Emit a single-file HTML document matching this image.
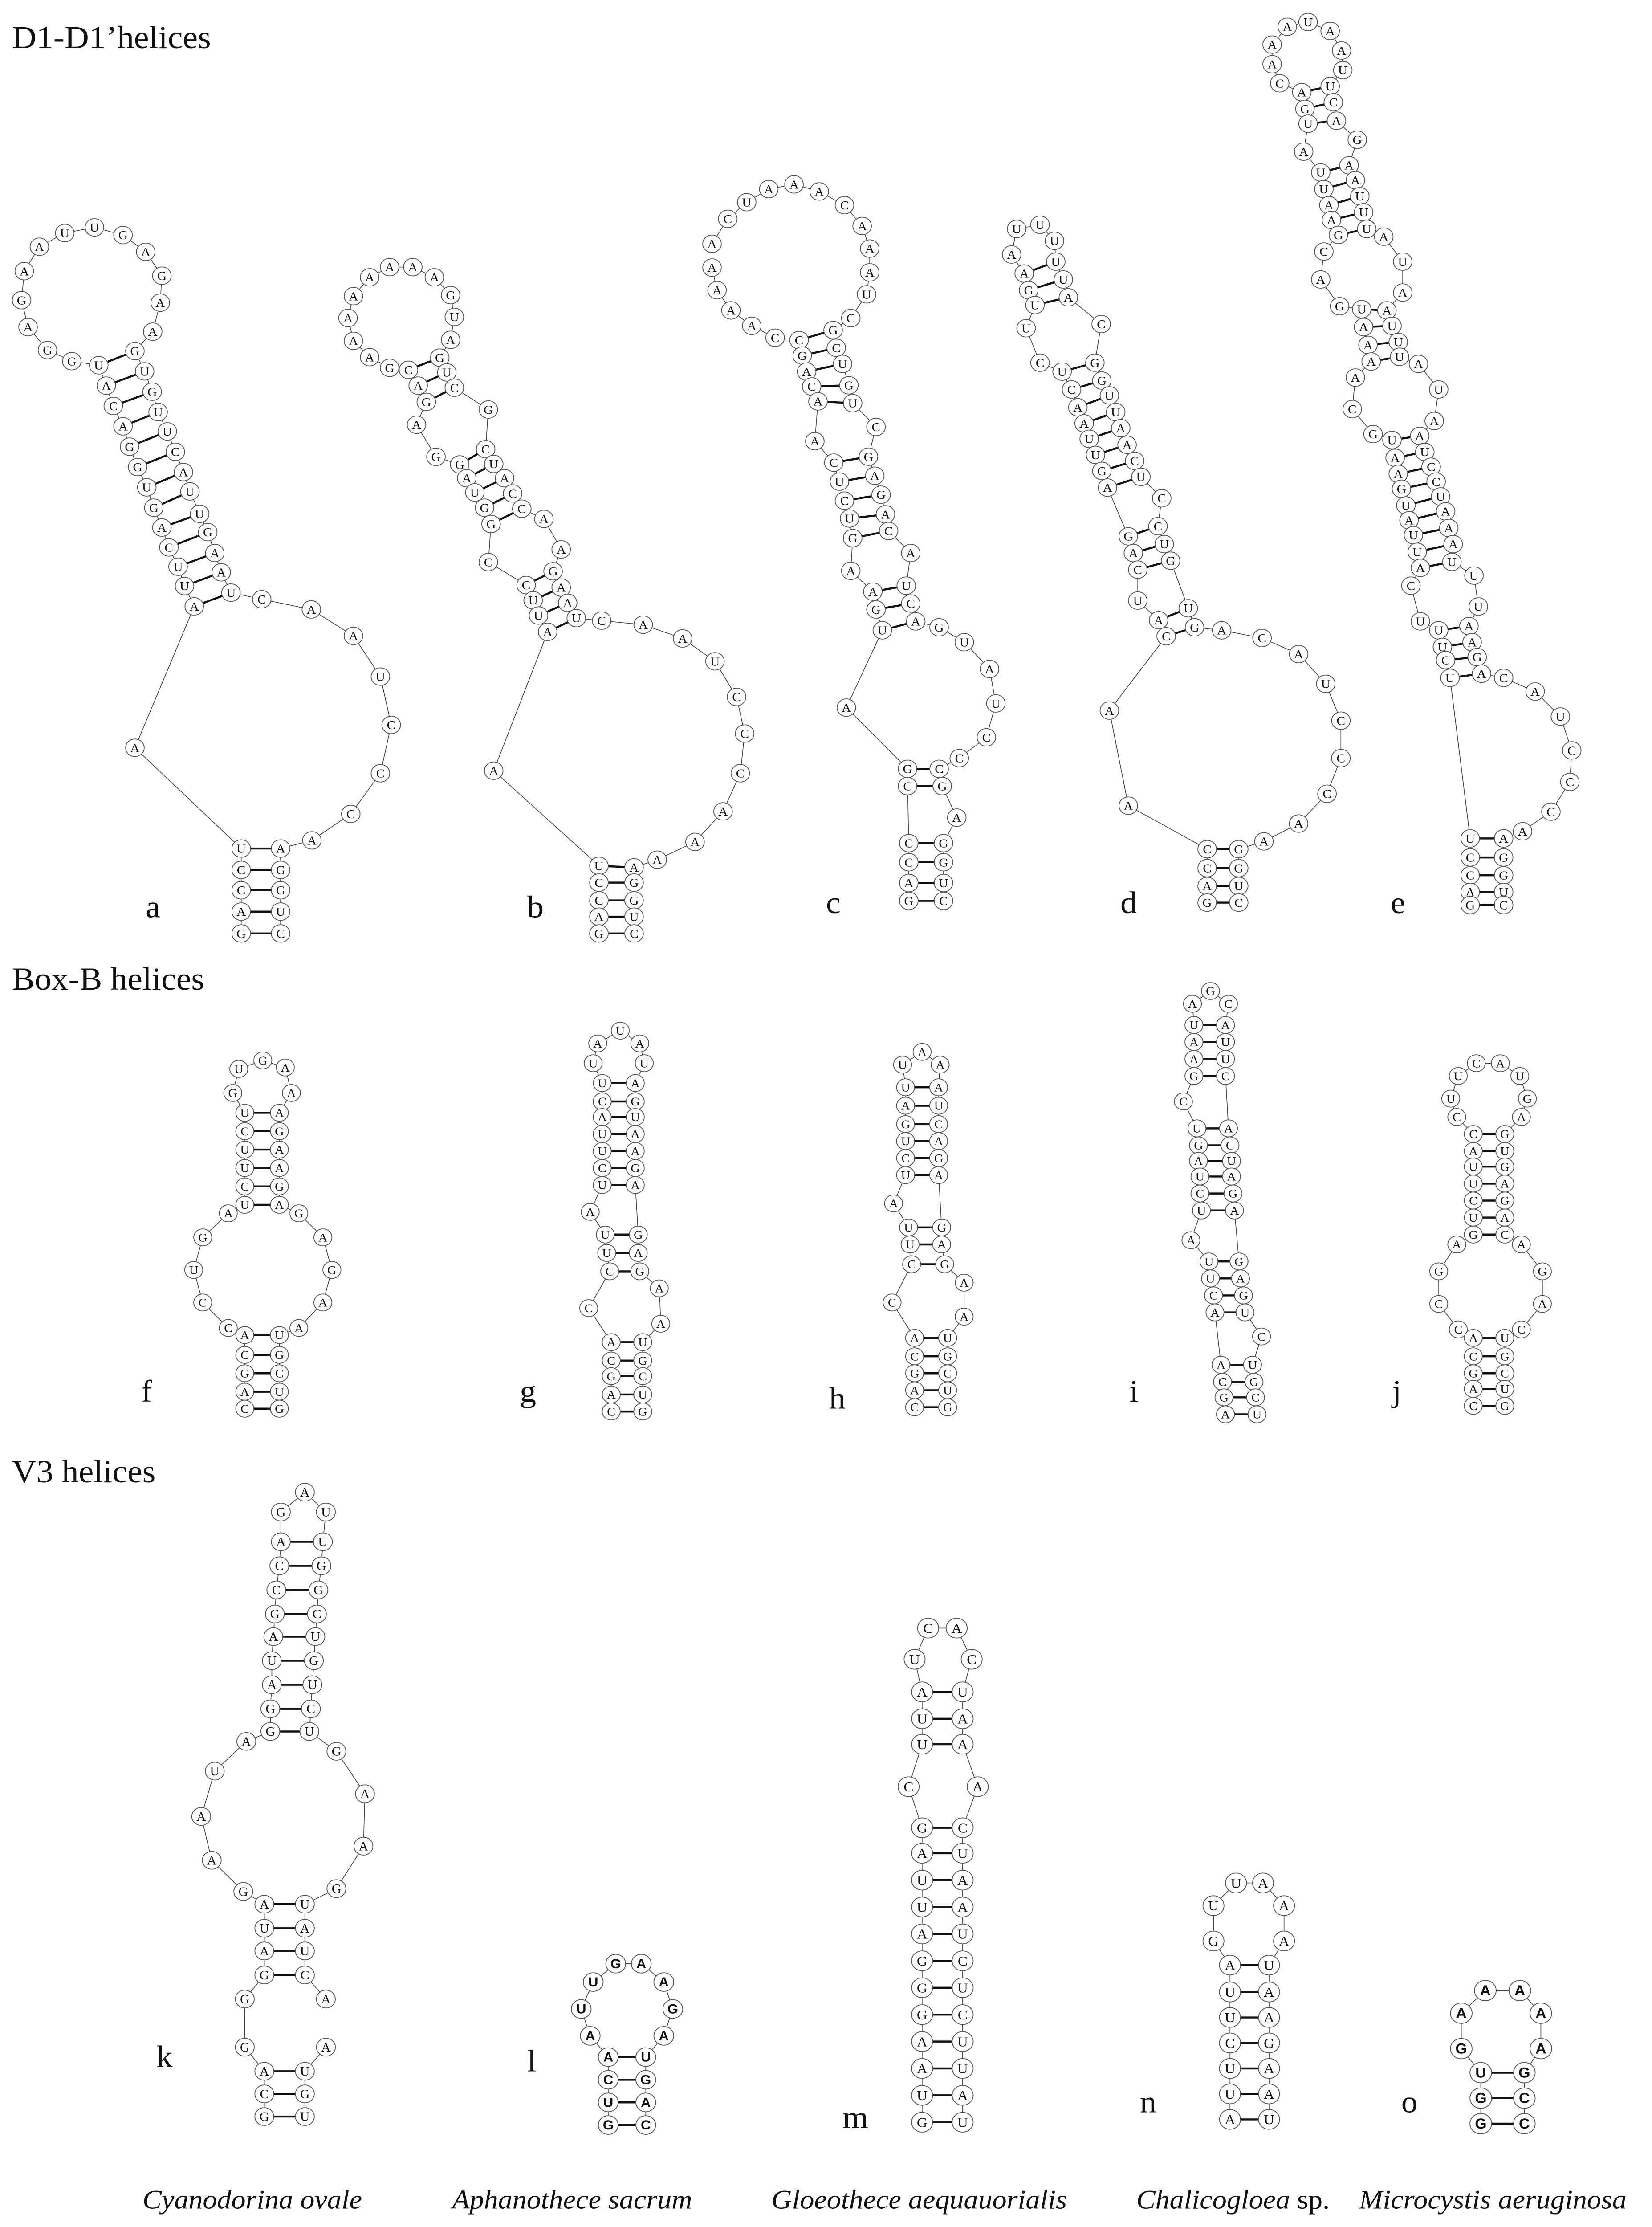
<!DOCTYPE html>
<html><head><meta charset="utf-8"><style>
html,body{margin:0;padding:0;background:#fff;width:100%;height:100%;overflow:hidden;}
svg#s{position:fixed;left:0;top:0;width:100vw;height:100vh;display:block;}
</style></head><body>
<svg id="s" xmlns="http://www.w3.org/2000/svg" viewBox="0 0 1100 1573" preserveAspectRatio="none" font-family="'Liberation Serif', serif">
<rect x="0" y="0" width="1100" height="1573" fill="#fff"/>
<text x="8" y="34" font-size="22.5" fill="#111">D1-D1’helices</text>
<text x="8" y="699" font-size="22.5" fill="#111">Box-B helices</text>
<text x="8" y="1047" font-size="22.5" fill="#111">V3 helices</text>
<g font-size="22" fill="#111">
<text x="97" y="648">a</text><text x="351" y="648">b</text><text x="550" y="645">c</text><text x="746" y="645">d</text><text x="926" y="645">e</text>
<text x="94" y="990">f</text><text x="346" y="990">g</text><text x="552" y="995">h</text><text x="752" y="990">i</text><text x="927" y="990">j</text>
<text x="104" y="1460">k</text><text x="351" y="1463">l</text><text x="561" y="1503">m</text><text x="759" y="1492">n</text><text x="933" y="1492">o</text>
</g>
<g font-size="19" fill="#111" font-style="italic" text-anchor="middle">
<text x="168" y="1560">Cyanodorina ovale</text>
<text x="381" y="1560">Aphanothece sacrum</text>
<text x="612" y="1560">Gloeothece aequauorialis</text>
<text x="821" y="1560">Chalicogloea <tspan font-style="normal">sp.</tspan></text>
<text x="994" y="1560">Microcystis aeruginosa</text>
</g>
<g id="g"></g>
</svg>
<script>
(function(){
let lines=[],bars=[],nodes=new Map();
let RAD=6,TF=null,BOLD=false;
function P(s){return s.trim().split(/\s+/).map(t=>{let p=t.split(',');let x=+p[0],y=+p[1];if(TF){const q=TF(x,y);x=q[0];y=q[1];}return [x,y,p[2]];});}
function ch(s){const a=P(s);for(let i=0;i<a.length-1;i++)lines.push([a[i],a[i+1]]);a.forEach(n=>nodes.set(n[0].toFixed(1)+','+n[1].toFixed(1),[n[0],n[1],n[2],RAD,BOLD]));return a;}
function st(l,r){const L=ch(l),Rr=ch(r);for(let i=0;i<Math.min(L.length,Rr.length);i++)bars.push([L[i],Rr[i],RAD]);}
function col(x,ys,letters){return ys.map((y,i)=>x+','+y+','+letters[i]).join(' ');}
const T1=(x,y)=>[x*0.3593,118.6+y*0.3593];
const T2=(x,y)=>[444.7+0.42*x,0.42*y];

TF=T1;RAD=6.2;
ch("183,388,U 133,380,G 88,358,G 52,313,A 40,260,G 45,203,A 73,155,A 120,128,U 175,117,U 228,132,G 270,165,A 300,212,G 297,265,A 283,322,A 250,360,G");
st("183,388,U 197,428,A 210,468,C 228,508,A 240,548,G 255,588,G 272,628,U 285,668,G 300,707,A 313,746,C 330,784,U 342,822,U 360,862,A",
   "250,360,G 268,400,U 282,440,G 293,480,U 310,518,U 325,558,C 340,598,A 352,636,U 370,680,U 385,716,G 398,757,A 410,795,A 428,835,U");
ch("428,835,U 485,848,C 577,868,A 655,920,A 705,1000,U 725,1095,C 705,1190,C 650,1270,C 578,1322,A 520,1338,A");
ch("360,862,A 250,1140,A 447,1338,U");
st("447,1338,U 447,1380,C 447,1420,C 447,1462,A 447,1505,G","520,1338,A 520,1380,G 520,1420,G 520,1462,U 520,1505,C");
ch("757,397,C 722,393,G 685,372,A 655,340,A 645,295,A 655,252,A 685,215,A 722,195,A 765,195,A 805,215,A 835,250,G 842,293,U 835,338,A 815,373,G");
st("757,397,C 775,428,A 790,460,G","815,373,G 828,402,U 842,432,C");
ch("790,460,G 772,505,A 808,568,G 852,583,G");ch("842,432,C 905,475,G 900,553,C");
st("852,583,G 865,610,A 880,638,U 898,668,G 910,700,G","900,553,C 915,582,U 935,610,A 950,640,C 967,670,C");
ch("910,700,G 905,775,C 975,820,C");ch("967,670,C 1008,690,A 1040,750,A 1025,793,G");
st("975,820,C 988,850,U 998,880,U 1015,912,A","1025,793,G 1040,825,A 1052,855,A 1068,885,U");
ch("1068,885,U 1115,890,C 1192,898,A 1265,925,A 1325,970,U 1365,1040,C 1380,1112,C 1372,1190,C 1340,1265,A 1288,1325,A 1218,1360,A 1175,1375,A");
ch("1015,912,A 915,1185,A 1110,1372,U");
st("1110,1372,U 1110,1405,C 1110,1440,C 1110,1472,A 1110,1505,G","1175,1375,A 1175,1405,G 1175,1440,G 1175,1472,U 1175,1505,C");
TF=T2;
ch("208,572,C 170,568,C 133,548,A 100,522,A 78,488,A 70,450,A 70,410,A 95,368,C 125,340,U 160,318,A 200,310,A 240,322,A 280,345,C 308,380,A 320,418,A 320,458,A 315,495,U 290,535,C 262,555,G");
st("208,572,C 213,598,G 220,625,A 228,650,C 238,675,A","262,555,G 267,585,C 277,612,U 287,648,G 293,678,U");
ch("238,675,A 233,742,A 263,778,C");ch("293,678,U 330,718,C 318,768,G");
st("263,778,C 272,810,U 280,842,C 288,872,U 293,905,G","318,768,G 328,800,A 338,832,G 345,865,A 350,893,C");
ch("293,905,G 290,960,A 325,995,A");ch("350,893,C 385,930,A 378,985,U");
st("325,995,A 330,1025,G 340,1060,U","378,985,U 385,1015,C 393,1045,A");
ch("393,1045,A 430,1055,G 470,1080,U 510,1125,A 520,1183,U 505,1240,C 462,1275,C 430,1293,C");
ch("340,1060,U 283,1190,A 380,1293,G");
st("380,1293,G 380,1322,C","430,1293,C 435,1322,G");
ch("435,1322,G 458,1375,A 437,1418,G");ch("380,1322,C 382,1418,C");
st("382,1418,C 382,1450,C 382,1485,A 382,1515,G","437,1418,G 437,1450,G 437,1485,U 437,1515,C");
ch("565,460,A 545,428,A 553,385,U 590,378,U 613,405,U 615,440,U");
st("565,460,A 572,488,G 582,513,U","615,440,U 627,470,U 635,500,A");
ch("582,513,U 568,552,U 590,610,C 625,625,U");ch("635,500,A 687,545,C 677,610,G");
st("625,625,U 640,655,C 650,685,A 660,712,A 668,738,U 678,765,U 688,792,G 697,820,A","677,610,G 688,640,G 700,665,U 710,693,U 718,720,A 728,748,A 740,775,C 750,802,U");
ch("697,820,A 730,902,G");ch("750,802,U 783,838,C 777,885,C");
st("730,902,G 738,930,A 745,958,C","777,885,C 787,915,U 797,943,G");
ch("745,958,C 745,1010,U 778,1043,A");ch("797,943,G 825,1023,U");
st("778,1043,A 790,1070,C","825,1023,U 835,1055,G");
ch("835,1055,G 878,1060,A 942,1073,C 1000,1100,A 1043,1150,U 1067,1212,C 1067,1275,C 1045,1335,C 1000,1385,A 945,1415,A 905,1428,G");
ch("790,1070,C 700,1195,A 730,1355,A 855,1428,C");
st("855,1428,C 855,1460,C 855,1490,A 855,1518,G","905,1428,G 905,1460,G 905,1490,U 905,1518,C");
ch("1005,155,A 970,140,C 958,108,A 958,75,A 982,45,A 1015,37,U 1050,52,A 1068,85,A 1070,118,U 1050,145,U");
st("1005,155,A 1010,183,G 1015,208,U","1050,145,U 1055,172,C 1060,203,A");
ch("1015,208,U 1008,255,A 1035,290,U");ch("1060,203,A 1093,235,G 1080,278,A");
st("1035,290,U 1040,318,U 1048,345,A 1052,370,A 1063,395,G","1080,278,A 1090,303,A 1097,330,U 1103,357,U 1108,385,U");
ch("1063,395,G 1040,423,C 1035,470,A 1065,515,G 1100,520,U");ch("1108,385,U 1135,398,A 1165,440,U 1165,492,A 1140,522,A");
st("1100,520,U 1103,550,A 1110,580,A 1115,608,A","1140,522,A 1148,548,U 1158,575,U 1160,600,U");
ch("1115,608,A 1090,635,A 1085,688,C 1118,730,G 1148,740,U");ch("1160,600,U 1190,612,A 1222,655,U 1215,708,A 1192,733,A");
st("1148,740,U 1153,770,A 1158,797,A 1163,822,G 1170,850,U 1175,875,A 1182,900,U 1188,928,U 1193,955,A","1192,733,A 1200,760,U 1210,785,C 1218,810,C 1225,835,U 1233,860,A 1238,888,A 1245,915,A 1243,945,U");
ch("1193,955,A 1178,985,C 1193,1045,U 1222,1060,U");ch("1243,945,U 1278,968,U 1285,1020,U 1270,1053,A");
st("1222,1060,U 1228,1088,U 1233,1110,C 1240,1140,U","1270,1053,A 1275,1080,A 1283,1105,G 1290,1133,A");
ch("1290,1133,A 1325,1140,C 1375,1163,A 1415,1205,U 1433,1262,C 1430,1315,C 1400,1365,C 1355,1398,A 1325,1410,A");
ch("1240,1140,U 1272,1410,U");
st("1272,1410,U 1272,1442,C 1272,1472,C 1272,1500,A 1272,1522,G","1325,1410,A 1325,1442,G 1325,1472,G 1325,1500,U 1325,1522,C");

TF=null;RAD=6;
ch("163,786,U 155,772,G 159,755,U 175,749,G 190,754,A 194,772,A 186,786,A");
st("163,786,U 163,799,C 163,812,U 163,825,U 163,838,C 163,851,U","186,786,A 186,799,G 186,812,A 186,825,A 186,838,G 186,851,A");
ch("163,851,U 152,857,A 135,874,G 129,897,U 135,920,C 152,938,C 163,943,A");
ch("186,851,A 199,857,G 215,874,A 221,897,G 215,920,A 199,938,A 186,943,U");
st("163,943,A 163,957,C 163,970,G 163,983,A 163,995,C","186,943,U 186,957,G 186,970,C 186,983,U 186,995,G");
ch("401,765,U 395,751,U 398,737,A 413,728,U 426,737,A 429,751,U 423,765,A");
st("401,765,U 401,778,C 401,789,A 401,801,U 401,813,U 401,825,C 401,837,U","423,765,A 423,778,G 423,789,U 423,801,A 423,813,A 423,825,G 423,837,A");
ch("401,837,U 393,856,A 403,872,U");ch("423,837,A 425,872,G");
st("403,872,U 404,885,U 406,898,C","425,872,G 425,885,A 426,898,G");
ch("406,898,C 392,924,C 407,948,A");ch("426,898,G 439,910,A 440,935,A 428,948,U");
st("407,948,A 407,961,C 407,972,G 407,985,A 407,997,C","428,948,U 428,961,G 428,972,C 428,985,U 428,997,G");
ch("603,768,U 601,752,U 614,743,A 626,752,A 625,768,A");
st("603,768,U 603,781,A 603,794,G 603,806,U 603,818,C 603,830,U","625,768,A 625,781,U 625,794,C 625,806,A 625,818,G 625,830,A");
ch("603,830,U 595,850,A 605,867,U");ch("625,830,A 627,867,G");
st("605,867,U 606,879,U 607,893,C","627,867,G 627,879,A 629,893,G");
ch("607,893,C 594,920,C 609,945,A");ch("629,893,G 642,906,A 642,930,A 631,945,U");
st("609,945,A 609,958,C 609,970,G 609,982,A 609,994,C","631,945,U 631,958,G 631,970,C 631,982,U 631,994,G");
ch("795,724,U 794,709,A 806,700,G 818,709,C 816,724,A");
st("795,724,U 795,736,A 795,748,A 795,760,G","816,724,A 816,736,U 816,748,U 816,760,C");
ch("795,760,G 788,778,C 797,797,U");ch("816,760,C 818,797,A");
st("797,797,U 798,809,G 798,820,A 799,831,U 799,843,C 800,855,U","818,797,A 819,809,C 820,820,U 820,831,A 821,843,G 822,855,A");
ch("800,855,U 793,876,A 805,891,U");ch("822,855,A 825,891,G");
st("805,891,U 806,903,U 808,915,C 809,927,A","825,891,G 826,903,A 828,915,G 829,927,U");
ch("809,927,A 813,964,A");ch("829,927,U 840,944,C 834,964,U");
st("813,964,A 814,976,C 815,987,G 816,999,A","834,964,U 835,976,G 836,987,C 837,999,U");
ch("981,801,C 970,789,C 966,776,U 971,760,U 983,751,C 999,751,A 1012,760,U 1017,776,G 1013,789,A 1002,801,G");
st("981,801,C 981,813,A 981,824,U 981,836,U 981,848,C 981,860,U 981,872,G","1002,801,G 1002,813,U 1002,824,G 1002,836,A 1002,848,G 1002,860,A 1002,872,C");
ch("981,872,G 970,879,A 958,898,G 958,921,C 971,939,C 981,945,A");
ch("1002,872,C 1013,879,A 1027,898,G 1027,921,A 1013,939,C 1002,945,U");
st("981,945,A 981,958,C 981,970,G 981,981,A 981,993,C","1002,945,U 1002,958,G 1002,970,C 1002,981,U 1002,993,G");
RAD=6.3;
ch("187,1089,A 187,1068,G 203,1054,A 217,1068,U 215,1089,U");
st("187,1089,A 186,1106,C 184,1123,C 183,1140,G 182,1156,A 181,1173,U 181,1190,A 180,1207,G 180,1223,G","215,1089,U 214,1106,G 212,1123,G 211,1140,C 210,1156,U 209,1173,G 208,1190,U 207,1207,C 206,1223,U");
ch("180,1223,G 164,1230,A 143,1251,U 134,1283,A 141,1314,A 162,1336,G 176,1345,A");
ch("206,1223,U 224,1237,G 243,1267,A 242,1304,A 224,1334,G 203,1345,U");
st("176,1345,A 176,1362,U 176,1378,A 176,1395,G","203,1345,U 203,1362,A 203,1378,U 203,1395,C");
ch("176,1395,G 163,1412,G 163,1446,G 176,1463,A");ch("203,1395,C 217,1412,A 217,1446,A 203,1463,U");
st("176,1463,A 176,1479,C 176,1495,G","203,1463,U 203,1479,G 203,1495,U");
BOLD=true;RAD=6.6;
ch("405,1453,A 393,1438,A 387,1419,U 395,1400,U 410,1387,G 427,1387,A 442,1400,A 448,1419,G 442,1438,A 430,1453,U");
st("405,1453,A 405,1469,C 405,1485,U 405,1501,G","430,1453,U 430,1469,G 430,1485,A 430,1501,C");
BOLD=false;RAD=7;
ch("614,1195,A 609,1172,U 618,1150,C 637,1150,A 647,1172,C 641,1195,U");
st("614,1195,A 614,1214,U 614,1232,U","641,1195,U 641,1214,A 641,1232,A");
ch("614,1232,U 605,1262,C 614,1291,G");ch("641,1232,A 651,1262,A 641,1291,C");
const my=[1291,1309,1328,1347,1366,1385,1404,1423,1442,1461,1480,1499];
st(col(614,my,"GAUUAGGGAAUG"),col(641,my,"CUAAUCUCUUAU"));
ch("819,1388,A 808,1371,G 808,1346,U 823,1330,U 841,1330,A 855,1346,A 855,1371,A 845,1388,U");
const ny=[1388,1407,1425,1443,1461,1479,1497];
st(col(819,ny,"AUUCUUA"),col(845,ny,"UAAGAAU"));
BOLD=true;RAD=7.2;
ch("986,1464,U 973,1447,G 973,1422,A 989,1406,A 1012,1406,A 1026,1422,A 1026,1447,A 1015,1464,G");
st("986,1464,U 986,1482,G 986,1500,G","1015,1464,G 1015,1482,C 1015,1500,C");

const g=document.getElementById('g');
let html='';
lines.forEach(l=>{html+=`<line x1="${l[0][0].toFixed(2)}" y1="${l[0][1].toFixed(2)}" x2="${l[1][0].toFixed(2)}" y2="${l[1][1].toFixed(2)}" stroke="#444" stroke-width="0.5"/>`;});
bars.forEach(b=>{const a=b[0],c=b[1],r=b[2];const dx=c[0]-a[0],dy=c[1]-a[1];const d=Math.hypot(dx,dy)||1;const ux=dx/d,uy=dy/d;
html+=`<line x1="${(a[0]+ux*r).toFixed(2)}" y1="${(a[1]+uy*r).toFixed(2)}" x2="${(c[0]-ux*r).toFixed(2)}" y2="${(c[1]-uy*r).toFixed(2)}" stroke="#111" stroke-width="1.4"/>`;});
nodes.forEach(n=>{html+=`<circle cx="${n[0].toFixed(2)}" cy="${n[1].toFixed(2)}" r="${n[3]}" fill="#fff" stroke="#555" stroke-width="0.55"/>`;
html+=`<text x="${n[0].toFixed(2)}" y="${(n[1]+n[3]*0.48).toFixed(2)}" font-size="${(n[3]*1.4).toFixed(2)}" text-anchor="middle" fill="#111"${n[4]?' font-weight="bold" font-family="Liberation Sans, sans-serif"':''}>${n[2]}</text>`;});
g.innerHTML=html;
})();
</script>
</body></html>
